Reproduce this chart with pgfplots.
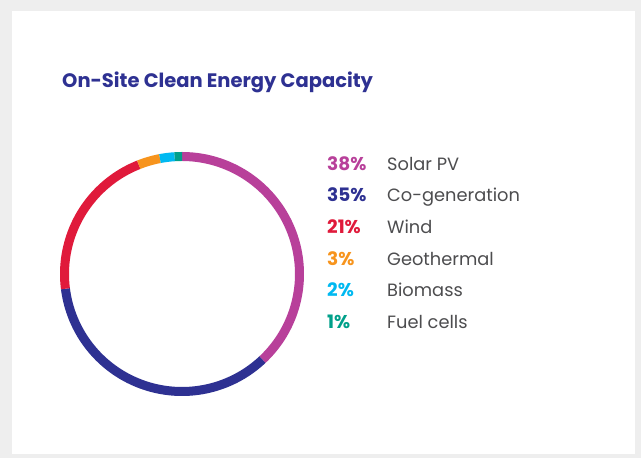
\documentclass[border=0pt]{standalone}
\usepackage{fontspec}
\setmainfont{Poppins}
\usepackage{pgfplots}
\pgfplotsset{compat=1.18}
\definecolor{bgframe}{HTML}{EEEEEE}
\definecolor{navy}{HTML}{2E3192}
\definecolor{solar}{HTML}{B8409A}
\definecolor{wind}{HTML}{E01A3B}
\definecolor{geo}{HTML}{F7941D}
\definecolor{bio}{HTML}{00B9F1}
\definecolor{fuel}{HTML}{00A08A}
\definecolor{txt}{HTML}{4D4D4F}
% segment: start percentage, share, colour
\newcommand{\seg}[3]{%
  \addplot[draw=#3, line width=9pt, line cap=butt, domain={90-3.6*(#1)}:{90-3.6*(#1+#2)}, samples=80, smooth]
    ({182+117.5*cos(x)}, {184+117.5*sin(x)});}
\newcommand{\entry}[4]{%
  \node[anchor=base west, inner sep=0pt, font=\bfseries\fontsize{18.5}{20}\selectfont, text=#3] at (axis cs:327,#1) {#2\%};
  \node[anchor=base west, inner sep=0pt, font=\fontsize{17.8}{20}\selectfont, text=txt] at (axis cs:387,#1) {#4};}
\begin{document}
\begin{tikzpicture}
\begin{axis}[
  at={(0pt,0pt)}, anchor=south west,
  width=641pt, height=458pt, scale only axis,
  xmin=0, xmax=641, ymin=0, ymax=458,
  hide axis, clip=false,
]
\fill[bgframe] (axis cs:0,0) rectangle (axis cs:641,458);
\fill[white] (axis cs:12,4) rectangle (axis cs:635,447);
\node[anchor=base west, font=\bfseries\fontsize{19.5}{22}\selectfont, text=navy, inner sep=0pt] at (axis cs:62,370) {On-Site Clean Energy Capacity};
% donut: Solar PV 38, Co-generation 35, Wind 21, Geothermal 3, Biomass 2, Fuel cells 1
\seg{0}{38}{solar}
\seg{38}{35}{navy}
\seg{73}{21}{wind}
\seg{94}{3}{geo}
\seg{97}{2}{bio}
\seg{99}{1}{fuel}
% legend
\entry{287}{38}{solar}{Solar PV}
\entry{256}{35}{navy}{Co-generation}
\entry{224}{21}{wind}{Wind}
\entry{192}{3}{geo}{Geothermal}
\entry{161}{2}{bio}{Biomass}
\entry{129}{1}{fuel}{Fuel cells}
\end{axis}
\end{tikzpicture}
\end{document}
